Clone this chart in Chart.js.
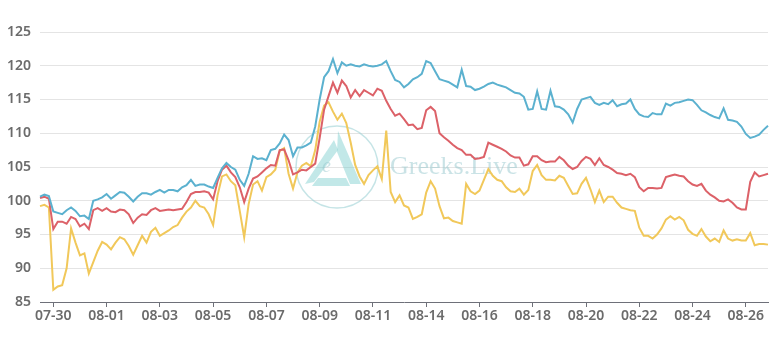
<!DOCTYPE html>
<html>
<head>
<meta charset="utf-8">
<script src="https://cdn.jsdelivr.net/npm/chart.js@4/dist/chart.umd.min.js"></script>
<style>
  body { margin: 0; background: #fff; }
  #wrap { width: 778px; height: 338px; }
</style>
</head>
<body>
<div id="wrap"><canvas id="myChart" width="778" height="338"></canvas></div>
<script>
// tick labels shown on the x axis (one every 12 points)
var tickLabels = ["07-30", "08-01", "08-03", "08-05", "08-07", "08-09", "08-11",
                  "08-14", "08-16", "08-18", "08-20", "08-22", "08-24", "08-26"];
var firstTick = 3;
var perTick = 12;

var blueLine = [100.6,100.9,100.7,98.4,98.2,98.0,98.6,99.0,98.5,97.7,97.8,97.3,
  100.0,100.2,100.5,101.0,100.3,100.8,101.3,101.2,100.6,99.9,100.6,101.1,
  101.1,100.9,101.3,101.6,101.2,101.6,101.6,101.4,102.0,102.3,103.1,102.2,
  102.4,102.4,102.1,101.9,103.4,104.8,105.6,105.0,104.6,103.1,102.2,104.0,
  106.6,106.2,106.3,106.0,107.5,107.7,108.5,109.8,109.0,106.6,107.9,107.9,
  108.2,108.6,111.0,115.0,118.3,119.2,121.0,118.9,120.5,120.0,120.2,120.0,
  119.9,120.2,120.0,119.9,120.0,120.2,120.7,119.2,117.9,117.6,116.8,117.3,
  118.0,118.3,118.8,120.7,120.4,119.2,118.0,117.8,117.6,117.2,116.8,119.4,
  117.0,116.9,116.4,116.6,116.9,117.3,117.5,117.2,117.0,116.8,116.4,116.0,
  115.9,115.4,113.5,113.6,116.2,113.6,113.5,116.3,114.0,113.9,113.5,112.8,
  111.6,113.6,115.0,115.2,115.4,114.5,114.2,114.5,114.3,114.9,114.0,114.3,
  114.4,115.0,113.6,112.8,112.5,112.4,113.0,112.8,112.8,114.4,114.1,114.5,
  114.6,114.8,115.0,114.9,114.2,113.4,113.1,112.7,112.4,112.2,113.7,112.0,
  111.9,111.7,111.0,109.9,109.3,109.5,109.8,110.5,111.1];

var redLine = [100.4,100.6,100.3,95.8,96.9,96.9,96.6,97.6,97.3,96.2,96.6,95.8,
  98.6,98.9,98.5,98.9,98.4,98.3,98.7,98.6,98.0,96.7,97.5,98.0,
  97.9,98.6,98.9,98.5,98.6,98.7,98.6,98.7,98.8,99.8,101.0,101.3,
  101.3,101.4,101.2,100.2,102.9,104.6,105.2,104.2,103.5,102.0,99.8,101.8,
  103.3,103.6,104.2,104.8,105.3,105.2,107.5,107.6,106.0,103.9,104.2,104.6,
  104.5,105.0,105.5,109.3,113.5,115.5,117.5,116.0,117.8,117.0,115.3,116.4,
  115.5,116.4,116.0,115.6,116.6,116.3,114.8,113.6,112.6,112.9,112.1,111.2,
  111.3,110.6,110.8,113.4,113.9,113.3,110.0,109.4,108.9,108.3,107.8,107.5,
  106.8,106.8,106.2,106.3,106.5,108.6,108.3,108.0,107.7,107.3,106.7,106.4,
  106.4,105.2,105.4,106.6,106.6,106.0,105.7,105.8,105.8,106.5,106.0,105.2,
  104.7,105.0,105.9,106.5,106.2,105.3,106.3,105.3,105.0,104.6,104.1,104.0,
  103.8,104.0,103.5,102.0,101.4,101.9,101.9,101.8,101.9,103.5,103.7,103.9,
  103.7,103.6,102.9,102.4,102.2,102.5,101.5,100.9,100.5,100.0,99.9,100.2,
  99.7,99.0,98.7,98.7,102.8,104.2,103.6,103.8,104.0];

var yellowLine = [99.2,99.4,99.0,86.8,87.3,87.5,90.0,95.9,93.8,91.9,92.2,89.2,
  90.9,92.6,93.9,93.5,92.8,93.8,94.6,94.3,93.3,92.0,93.4,94.8,
  93.8,95.4,96.0,94.8,95.2,95.6,96.1,96.4,97.5,98.4,99.0,100.0,
  99.2,99.0,98.0,96.4,100.8,103.6,103.9,102.9,102.3,98.5,94.6,99.5,
  102.4,102.9,101.5,103.5,103.9,104.6,107.4,107.8,104.0,101.8,104.2,105.2,
  105.6,105.1,107.5,111.7,114.1,114.6,113.2,112.0,112.9,111.5,108.6,105.3,
  103.6,102.5,103.8,104.5,105.1,103.2,110.4,101.3,99.8,100.8,99.3,99.0,
  97.3,97.6,98.0,101.2,102.9,101.8,99.2,97.4,97.5,97.0,96.8,96.6,
  102.5,101.4,101.0,101.5,103.1,104.7,103.7,103.1,102.9,102.0,101.4,101.3,
  101.8,100.9,101.6,104.4,105.3,103.8,103.1,103.1,103.0,103.7,103.4,102.2,
  101.0,101.1,102.5,103.4,101.7,99.8,101.5,99.8,100.6,100.6,99.7,99.0,
  98.8,98.6,98.5,96.0,94.8,94.8,94.4,95.0,95.9,97.2,97.7,97.2,
  97.6,97.1,95.7,95.1,94.8,95.8,94.7,94.0,94.4,93.9,95.6,94.4,
  94.1,94.3,94.1,94.1,95.2,93.4,93.6,93.6,93.5];

var yTicks = [85, 90, 95, 100, 105, 110, 115, 120, 125];

// one category per point, labelled only where a tick label falls
var categories = blueLine.map(function (v, i) {
  var k = (i - firstTick) / perTick;
  return (k >= 0 && k === Math.floor(k) && k < tickLabels.length) ? tickLabels[k] : "";
});

// faint logo + text watermark in the middle
var watermark = {
  id: "watermark",
  beforeDatasetsDraw: function (chart) {
    var c = chart.ctx;
    c.save();
    c.strokeStyle = "rgba(150,205,210,0.55)";
    c.lineWidth = 1.5;
    c.beginPath();
    c.arc(337, 167, 41, 0, Math.PI * 2);
    c.stroke();
    c.fillStyle = "rgba(120,205,205,0.45)";
    c.beginPath();
    c.moveTo(334, 140); c.lineTo(338, 150); c.lineTo(314, 182); c.lineTo(305, 184);
    c.closePath(); c.fill();
    c.beginPath();
    c.moveTo(338, 131); c.lineTo(361, 184); c.lineTo(350, 184); c.lineTo(337, 152);
    c.closePath(); c.fill();
    c.beginPath();
    c.moveTo(318, 178); c.lineTo(346, 178); c.lineTo(350, 186); c.lineTo(312, 186);
    c.closePath(); c.fill();
    c.fillStyle = "rgba(150,200,205,0.5)";
    c.font = "italic 20px 'Liberation Serif'";
    c.fillText("e", 322, 172);
    c.font = "26px 'Liberation Serif'";
    c.fillText("Greeks.Live", 390, 174);
    c.restore();
  }
};

const ctx = document.getElementById("myChart");
new Chart(ctx, {
  type: "line",
  data: {
    labels: categories,
    datasets: [
      { label: "blue", data: blueLine, borderColor: "#5bb1cf", borderWidth: 2 },
      { label: "red", data: redLine, borderColor: "#dc6168", borderWidth: 2 },
      { label: "yellow", data: yellowLine, borderColor: "#f1c85a", borderWidth: 2 },
    ],
  },
  options: {
    responsive: false,
    devicePixelRatio: 1,
    animation: false,
    layout: { padding: { top: 32, right: 10, left: 0, bottom: 0 } },
    elements: { point: { radius: 0 }, line: { tension: 0 } },
    plugins: { legend: { display: false }, tooltip: { enabled: false } },
    scales: {
      x: {
        type: "category",
        offset: false,
        afterFit: function (s) { s.height = 36; },
        border: { display: true, color: "#6e7079", width: 1 },
        grid: { display: true, drawOnChartArea: false, drawTicks: true, tickLength: 5, color: "#6e7079" },
        ticks: {
          autoSkip: false,
          maxRotation: 0,
          padding: 1,
          color: "#6b6b6b",
          font: { family: "'Noto Sans'", size: 14, weight: "600" },
          callback: function (val, i) {
            var t = categories[i];
            return t === "" ? null : t;
          }
        }
      },
      y: {
        min: 85,
        max: 125,
        afterFit: function (s) { s.width = 40; },
        afterBuildTicks: function (s) { s.ticks = yTicks.map(function (v) { return { value: v }; }); },
        border: { display: false },
        grid: {
          drawTicks: false,
          color: function (c) { return c.tick && c.tick.value === 85 ? "transparent" : "#e4e4e4"; }
        },
        ticks: {
          padding: 9,
          color: "#6b6b6b",
          font: { family: "'Noto Sans'", size: 14, weight: "600" }
        }
      }
    }
  },
  plugins: [watermark]
});
</script>
</body>
</html>
